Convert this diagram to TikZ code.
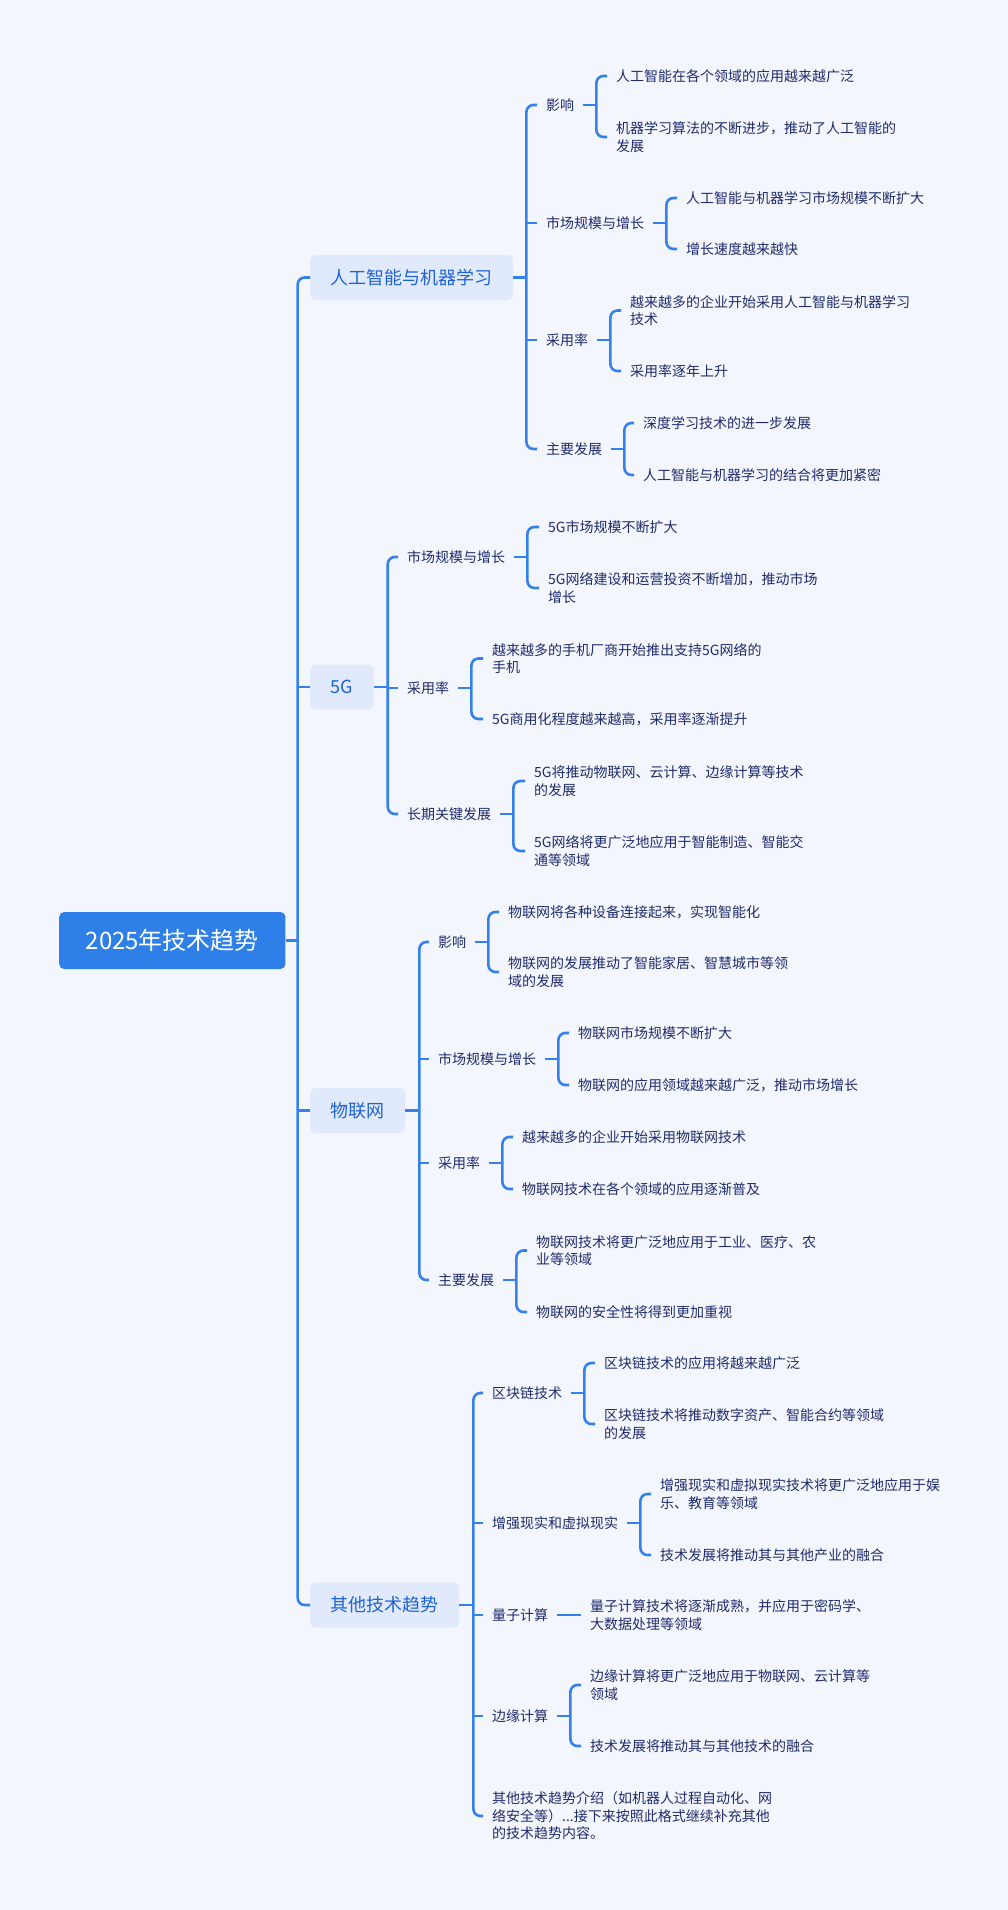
\documentclass[tikz,border=0pt]{standalone}
\usepackage{fontspec}
\setmainfont{Noto Sans CJK SC}
\definecolor{bgcol}{HTML}{F4F6FD}
\definecolor{linecol}{HTML}{3581EC}
\definecolor{rootcol}{HTML}{2F7FE8}
\definecolor{topicfill}{HTML}{E1E9FC}
\definecolor{topictext}{HTML}{1E64D8}
\definecolor{textcol}{HTML}{1F2B6C}
\tikzset{
  rootbox/.style={anchor=west, fill=rootcol, text=white, rounded corners=5pt, minimum height=57pt, inner xsep=26.5pt, font=\fontsize{24}{28}\selectfont},
  topicbox/.style={anchor=west, fill=topicfill, text=topictext, rounded corners=6pt, minimum height=45pt, inner xsep=20.5pt, font=\fontsize{18}{22}\selectfont},
  subtopic/.style={anchor=west, text=textcol, inner xsep=9pt, inner ysep=2pt, font=\fontsize{14}{17.5}\selectfont},
  detail/.style={subtopic, align=left},
  link/.style={draw=linecol, line width=2.6pt},
  elbow/.style={link, rounded corners=7pt}
}
\begin{document}
\begin{tikzpicture}[x=1pt, y=-1pt]
\useasboundingbox (0,0) rectangle (1008,1910);
\fill[bgcol] (0,0) rectangle (1008,1910);

% root and main topics
\node[rootbox] (root) at (59,940.5) {2025年技术趋势};
\node[topicbox] (ai) at (310,277.5) {人工智能与机器学习};
\node[topicbox] (fiveg) at (310,687) {5G};
\node[topicbox] (iot) at (310,1110.5) {物联网};
\node[topicbox] (other) at (310,1605) {其他技术趋势};

% AI
\node[subtopic] (aiImpact) at (537,105) {影响};
\node[subtopic] (aiMarket) at (537,223) {市场规模与增长};
\node[subtopic] (aiAdopt) at (537,340) {采用率};
\node[subtopic] (aiDev) at (537,449) {主要发展};
\node[detail] (aiImpactA) at (607,76) {人工智能在各个领域的应用越来越广泛};
\node[detail] (aiImpactB) at (607,137) {机器学习算法的不断进步，推动了人工智能的\\发展};
\node[detail] (aiMarketA) at (677,198) {人工智能与机器学习市场规模不断扩大};
\node[detail] (aiMarketB) at (677,249) {增长速度越来越快};
\node[detail] (aiAdoptA) at (621,310.5) {越来越多的企业开始采用人工智能与机器学习\\技术};
\node[detail] (aiAdoptB) at (621,371) {采用率逐年上升};
\node[detail] (aiDevA) at (634,423) {深度学习技术的进一步发展};
\node[detail] (aiDevB) at (634,475) {人工智能与机器学习的结合将更加紧密};

% 5G
\node[subtopic] (fgMarket) at (398,557) {市场规模与增长};
\node[subtopic] (fgAdopt) at (398,688) {采用率};
\node[subtopic] (fgLong) at (398,814) {长期关键发展};
\node[detail] (fgMarketA) at (539,527) {5G市场规模不断扩大};
\node[detail] (fgMarketB) at (539,588) {5G网络建设和运营投资不断增加，推动市场\\增长};
\node[detail] (fgAdoptA) at (483,658.5) {越来越多的手机厂商开始推出支持5G网络的\\手机};
\node[detail] (fgAdoptB) at (483,719) {5G商用化程度越来越高，采用率逐渐提升};
\node[detail] (fgLongA) at (525,781) {5G将推动物联网、云计算、边缘计算等技术\\的发展};
\node[detail] (fgLongB) at (525,851) {5G网络将更广泛地应用于智能制造、智能交\\通等领域};

% IoT
\node[subtopic] (iotImpact) at (429,942) {影响};
\node[subtopic] (iotMarket) at (429,1059) {市场规模与增长};
\node[subtopic] (iotAdopt) at (429,1163) {采用率};
\node[subtopic] (iotDev) at (429,1280) {主要发展};
\node[detail] (iotImpactA) at (499,912) {物联网将各种设备连接起来，实现智能化};
\node[detail] (iotImpactB) at (499,972) {物联网的发展推动了智能家居、智慧城市等领\\域的发展};
\node[detail] (iotMarketA) at (569,1033) {物联网市场规模不断扩大};
\node[detail] (iotMarketB) at (569,1085) {物联网的应用领域越来越广泛，推动市场增长};
\node[detail] (iotAdoptA) at (513,1137) {越来越多的企业开始采用物联网技术};
\node[detail] (iotAdoptB) at (513,1189) {物联网技术在各个领域的应用逐渐普及};
\node[detail] (iotDevA) at (527,1250.5) {物联网技术将更广泛地应用于工业、医疗、农\\业等领域};
\node[detail] (iotDevB) at (527,1312) {物联网的安全性将得到更加重视};

% other trends
\node[subtopic] (otChain) at (483,1393) {区块链技术};
\node[subtopic] (otAR) at (483,1523) {增强现实和虚拟现实};
\node[subtopic] (otQuant) at (483,1615) {量子计算};
\node[subtopic] (otEdge) at (483,1716) {边缘计算};
\node[detail] (otMore) at (483,1816) {其他技术趋势介绍（如机器人过程自动化、网\\络安全等）...接下来按照此格式继续补充其他\\的技术趋势内容。};
\node[detail] (otChainA) at (595,1363) {区块链技术的应用将越来越广泛};
\node[detail] (otChainB) at (595,1424) {区块链技术将推动数字资产、智能合约等领域\\的发展};
\node[detail] (otARA) at (651,1494) {增强现实和虚拟现实技术将更广泛地应用于娱\\乐、教育等领域};
\node[detail] (otARB) at (651,1555) {技术发展将推动其与其他产业的融合};
\node[detail] (otQuantA) at (581,1615) {量子计算技术将逐渐成熟，并应用于密码学、\\大数据处理等领域};
\node[detail] (otEdgeA) at (581,1685) {边缘计算将更广泛地应用于物联网、云计算等\\领域};
\node[detail] (otEdgeB) at (581,1746) {技术发展将推动其与其他技术的融合};

% trunk
\draw[link] (root.east) -- ++(12,0) coordinate (trunk);
\draw[elbow] (ai.west) -| (trunk) |- (other.west);
\draw[link] (trunk |- fiveg.west) -- (fiveg.west);
\draw[link] (trunk |- iot.west) -- (iot.west);

% AI links
\draw[link] (ai.east) -- ++(13,0) coordinate (aiBar);
\draw[elbow] (aiImpact.west) -| (aiBar) |- (aiDev.west);
\draw[link] (aiBar |- aiMarket.west) -- (aiMarket.west);
\draw[link] (aiBar |- aiAdopt.west) -- (aiAdopt.west);
\draw[link] (aiImpact.east) -- ++(13,0) coordinate (aiImpactBar);
\draw[elbow] (aiImpactA.west) -| (aiImpactBar) |- (aiImpactB.west);
\draw[link] (aiMarket.east) -- ++(13,0) coordinate (aiMarketBar);
\draw[elbow] (aiMarketA.west) -| (aiMarketBar) |- (aiMarketB.west);
\draw[link] (aiAdopt.east) -- ++(13,0) coordinate (aiAdoptBar);
\draw[elbow] (aiAdoptA.west) -| (aiAdoptBar) |- (aiAdoptB.west);
\draw[link] (aiDev.east) -- ++(13,0) coordinate (aiDevBar);
\draw[elbow] (aiDevA.west) -| (aiDevBar) |- (aiDevB.west);

% 5G links
\draw[link] (fiveg.east) -- ++(14,0) coordinate (fgBar);
\draw[elbow] (fgMarket.west) -| (fgBar) |- (fgLong.west);
\draw[link] (fgBar |- fgAdopt.west) -- (fgAdopt.west);
\draw[link] (fgMarket.east) -- ++(13,0) coordinate (fgMarketBar);
\draw[elbow] (fgMarketA.west) -| (fgMarketBar) |- (fgMarketB.west);
\draw[link] (fgAdopt.east) -- ++(13,0) coordinate (fgAdoptBar);
\draw[elbow] (fgAdoptA.west) -| (fgAdoptBar) |- (fgAdoptB.west);
\draw[link] (fgLong.east) -- ++(13,0) coordinate (fgLongBar);
\draw[elbow] (fgLongA.west) -| (fgLongBar) |- (fgLongB.west);

% IoT links
\draw[link] (iot.east) -- ++(14,0) coordinate (iotBar);
\draw[elbow] (iotImpact.west) -| (iotBar) |- (iotDev.west);
\draw[link] (iotBar |- iotMarket.west) -- (iotMarket.west);
\draw[link] (iotBar |- iotAdopt.west) -- (iotAdopt.west);
\draw[link] (iotImpact.east) -- ++(13,0) coordinate (iotImpactBar);
\draw[elbow] (iotImpactA.west) -| (iotImpactBar) |- (iotImpactB.west);
\draw[link] (iotMarket.east) -- ++(13,0) coordinate (iotMarketBar);
\draw[elbow] (iotMarketA.west) -| (iotMarketBar) |- (iotMarketB.west);
\draw[link] (iotAdopt.east) -- ++(13,0) coordinate (iotAdoptBar);
\draw[elbow] (iotAdoptA.west) -| (iotAdoptBar) |- (iotAdoptB.west);
\draw[link] (iotDev.east) -- ++(13,0) coordinate (iotDevBar);
\draw[elbow] (iotDevA.west) -| (iotDevBar) |- (iotDevB.west);

% other links
\draw[link] (other.east) -- ++(14,0) coordinate (otBar);
\draw[elbow] (otChain.west) -| (otBar) |- (otMore.west);
\draw[link] (otBar |- otAR.west) -- (otAR.west);
\draw[link] (otBar |- otQuant.west) -- (otQuant.west);
\draw[link] (otBar |- otEdge.west) -- (otEdge.west);
\draw[link] (otChain.east) -- ++(13,0) coordinate (otChainBar);
\draw[elbow] (otChainA.west) -| (otChainBar) |- (otChainB.west);
\draw[link] (otAR.east) -- ++(13,0) coordinate (otARBar);
\draw[elbow] (otARA.west) -| (otARBar) |- (otARB.west);
\draw[link] (otQuant.east) -- (otQuantA.west);
\draw[link] (otEdge.east) -- ++(13,0) coordinate (otEdgeBar);
\draw[elbow] (otEdgeA.west) -| (otEdgeBar) |- (otEdgeB.west);
\end{tikzpicture}
\end{document}
